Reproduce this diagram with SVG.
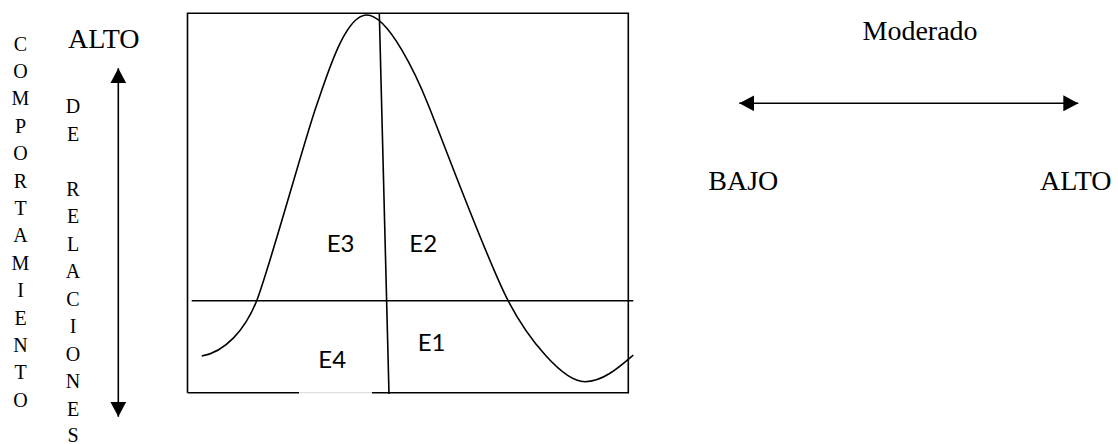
<svg xmlns="http://www.w3.org/2000/svg" width="1118" height="444" viewBox="0 0 1118 444">
<style>
.t{font-family:"Liberation Serif","Times New Roman",serif;fill:#000}
.col{font-size:20px;text-anchor:middle}
.big{font-size:28px}
.e{font-family:Lato,"Open Sans",sans-serif;font-size:24px;fill:#000}
.ln{stroke:#000;stroke-width:1.6;fill:none}
</style>
<defs>
<marker id="ah2" viewBox="0 0 15 16" refX="15" refY="8" markerWidth="15" markerHeight="16" markerUnits="userSpaceOnUse" orient="auto-start-reverse">
<path d="M0,0 L15,8 L0,16 Z" fill="#000"/>
</marker>
</defs>

<g id="label-comportamiento" class="t col">
<text x="20.5" y="50.5">C</text>
<text x="20.5" y="77.9">O</text>
<text x="20.5" y="105.3">M</text>
<text x="20.5" y="132.7">P</text>
<text x="20.5" y="160.1">O</text>
<text x="20.5" y="187.5">R</text>
<text x="20.5" y="214.9">T</text>
<text x="20.5" y="242.3">A</text>
<text x="20.5" y="269.7">M</text>
<text x="20.5" y="297.1">I</text>
<text x="20.5" y="324.5">E</text>
<text x="20.5" y="351.9">N</text>
<text x="20.5" y="379.3">T</text>
<text x="20.5" y="406.7">O</text>
</g>

<g id="label-relaciones" class="t col">
<text x="73" y="113.3">D</text>
<text x="73" y="140.8">E</text>
<text x="73" y="195.8">R</text>
<text x="73" y="223.3">E</text>
<text x="73" y="250.8">L</text>
<text x="73" y="278.3">A</text>
<text x="73" y="305.8">C</text>
<text x="73" y="333.3">I</text>
<text x="73" y="360.8">O</text>
<text x="73" y="388.3">N</text>
<text x="73" y="415.8">E</text>
<text x="73" y="441.5">S</text>
</g>

<g id="label-alto-left"><text class="t" x="68" y="48.3" font-size="28">ALTO</text></g>

<g id="chart">
<path class="ln" d="M187.5,392.7 L187.5,13.3 L628.3,13.3 L628.3,392.7 L372,392.7 M299,392.7 L187.5,392.7" stroke-width="2"/>
<line x1="299" y1="392.7" x2="372" y2="392.7" stroke="#d8d8d8" stroke-width="1"/>
<path class="ln" d="M201.7,356 C225,352 245,330 256.7,300.7 C268.4,271.4 304.7,139 316.7,105 C326.7,76.7 344.7,15 366.7,15 C388.7,15 417.3,77.5 428.3,105 C448.3,155 488.3,263 508.3,301 C528.3,339.4 563,381.7 585,381.7 C603,381.7 619.3,367 633.3,355"/>
<line class="ln" x1="379.3" y1="13.3" x2="389" y2="394"/>
<line class="ln" x1="191.7" y1="300.7" x2="633.3" y2="300.7"/>
</g>

<g id="quadrant-labels" class="e">
<text x="326.7" y="252.3">E3</text>
<text x="409.3" y="252.3">E2</text>
<text x="417.7" y="350.7">E1</text>
<text x="318.3" y="368.3">E4</text>
</g>

<g id="label-moderado"><text class="t big" x="862.5" y="40">Moderado</text></g>
<g id="label-bajo"><text class="t big" x="708.3" y="190">BAJO</text></g>
<g id="label-alto-right"><text class="t big" x="1040" y="190">ALTO</text></g>

<g id="connectors">
<line class="ln" x1="118.3" y1="68.3" x2="118.3" y2="416.7" marker-start="url(#ah2)" marker-end="url(#ah2)"/>
<line class="ln" x1="739.3" y1="103.3" x2="1078.3" y2="103.3" marker-start="url(#ah2)" marker-end="url(#ah2)"/>
</g>
</svg>
